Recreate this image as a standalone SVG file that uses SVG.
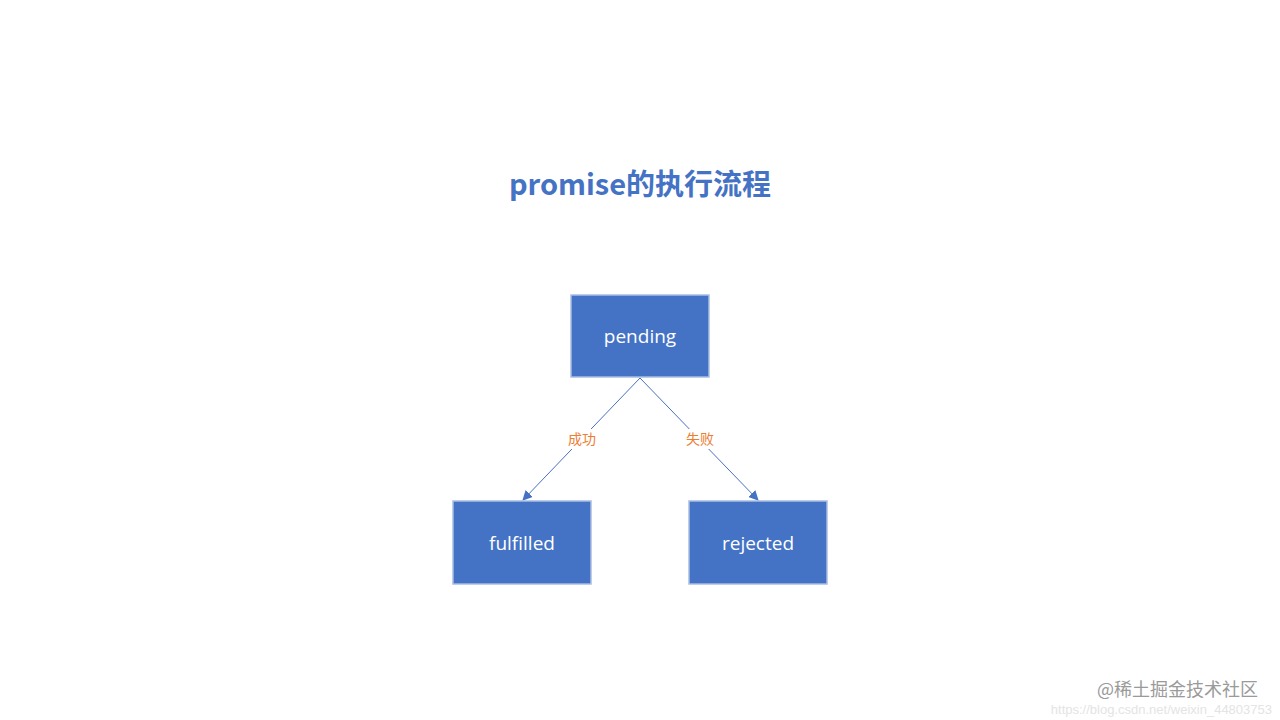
<svg xmlns="http://www.w3.org/2000/svg" width="1280" height="720" viewBox="0 0 1280 720">
<style>
.box{fill:#4472c4;stroke:#a9bde3;stroke-width:1.5}
.bt{font-family:"Open Sans","Noto Sans",sans-serif;font-size:19px;fill:#fff;text-anchor:middle}
.lbl{font-family:"Noto Sans CJK SC",sans-serif;font-size:14px;fill:#ed7d31;text-anchor:middle}
.ln{stroke:#4a6fc4;stroke-width:1;fill:none}
</style>
<defs><marker id="ar" viewBox="0 0 10 10" refX="9" refY="5" markerWidth="10" markerHeight="10" markerUnits="userSpaceOnUse" orient="auto"><path d="M0,0L10,5L0,10z" fill="#4472c4"/></marker></defs>
<rect width="1280" height="720" fill="#fff"/>
<text x="640" y="195" font-family="Noto Sans CJK SC,sans-serif" font-size="29" font-weight="bold" fill="#4472c4" text-anchor="middle">promise的执行流程</text>
<g id="connectors">
<line class="ln" x1="640" y1="378" x2="523" y2="500" marker-end="url(#ar)"/>
<line class="ln" x1="640" y1="378" x2="758" y2="500" marker-end="url(#ar)"/>
<rect x="563" y="429" width="38" height="20" fill="#fff"/>
<rect x="681" y="429" width="38" height="20" fill="#fff"/>
<text class="lbl" x="582" y="444">成功</text>
<text class="lbl" x="700" y="444">失败</text>
</g>
<g id="pending"><rect class="box" x="571" y="295" width="138" height="82"/><text class="bt" x="640" y="343">pending</text></g>
<g id="fulfilled"><rect class="box" x="453" y="501" width="138" height="83"/><text class="bt" x="522" y="550">fulfilled</text></g>
<g id="rejected"><rect class="box" x="689" y="501" width="138" height="83"/><text class="bt" x="758" y="550">rejected</text></g>
<text x="1258" y="696" font-family="Noto Sans CJK SC,sans-serif" font-size="18" fill="#9a9a9a" text-anchor="end">@稀土掘金技术社区</text>
<text x="1272" y="714" font-family="Liberation Sans,sans-serif" font-size="13" fill="#e4e4e4" text-anchor="end">https://blog.csdn.net/weixin_44803753</text>
</svg>
